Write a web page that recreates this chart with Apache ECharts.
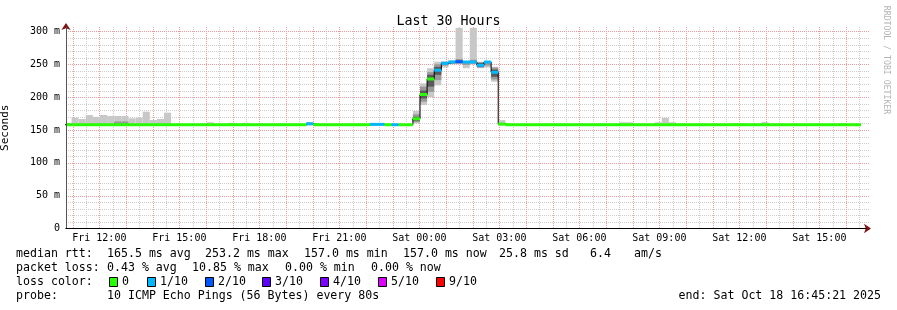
<!DOCTYPE html>
<html><head><meta charset="utf-8">
<script src="https://cdn.jsdelivr.net/npm/echarts@6/dist/echarts.min.js"></script>
<style>html,body{margin:0;padding:0;background:#fff}#c{width:897px;height:310px}</style>
</head><body><div id="c"></div>
<script>
// ---------- data ----------
const chartTitle = 'Last 30 Hours';
const yAxisTitle = 'Seconds';
const xMinHour = 10.75;          // Fri 10:45
const xMaxHour = 40.75;          // Sat 16:45
const binStartHour = 10.69167;   // first (partial) 16-minute bin starts 10:41:30
const binHours = 16 / 60;
const tickHours = [12, 15, 18, 21, 24, 27, 30, 33, 36, 39];
const tickLabels = ['Fri 12:00', 'Fri 15:00', 'Fri 18:00', 'Fri 21:00', 'Sat 00:00', 'Sat 03:00', 'Sat 06:00', 'Sat 09:00', 'Sat 12:00', 'Sat 15:00'];
const yTickValues = [0, 50, 100, 150, 200, 250, 300];
const yTickLabels = ['0', '50 m', '100 m', '150 m', '200 m', '250 m', '300 m'];
const yMax = 306.8;
const xMajorGridStep = 1, xMinorGridStep = 0.5;   // hours
const yMajorGridStep = 50, yMinorGridStep = 10;   // ms

// median rtt per 16-min bin (ms)
const median = [
  158,158,158,158,158,158,158,158,158,158,158,158,158,158,158,
  158,158,158,158,158,158,158,158,158,158,158,158,158,158,158,158,158,158,158,
  159.5,
  158,158,158,158,158,158,158,158,
  158.5,158.5,
  158,158,158,158,
  167,204,227.6,241,251.5,253.5,254,253.5,253.5,248.5,253.5,237.8,159,
  158,158,158,158,158,158,158,158,158,158,158,158,158,158,158,158,158,158,158,158,158,158,158,158,158,
  158,158,158,158,158,158,158,158,158,158,158,158,158,158,158,158,158,158,158,158,158,158,158,158,158
];
// bins with packet loss (tenths)
const lossIdx = [34, 43, 44, 46, 52, 53, 54, 55, 56, 57, 58, 59, 60];
const lossVal = [1, 1, 1, 1, 1, 1, 1, 2, 1, 1, 1, 1, 1];
// smoke bands: [bin, low ms, high ms]
const smokeOuter = [
  [0,157,161],[1,157,168.7],[2,157,166.7],[3,157,172.8],[4,157,170],[5,157,172.8],[6,157,171.3],[7,157,171.3],
  [8,157,171.3],[9,157,167.8],[10,157,168.7],[11,157,177.9],[12,157,165.2],[13,157,166.7],[14,157,176.4],
  [20,157,161.7],[23,157,161],[25,157,161],[34,157,162],[43,157,160.5],[44,157,160.5],
  [49,160,179],[50,188,221],[51,200,244],[52,218,254],[53,245,254],[54,250,256],[55,250,305.5],[56,244,255],
  [57,250,305.5],[58,244,254],[59,245,255],[60,223.5,246.4],[61,157,165],
  [78,157,161.7],[79,157,161.7],[83,157,161.7],[84,157,168.3],[85,157,161.7],[94,157,160.6],[95,157,160.6],
  [98,157,162],[109,157,160.6]
];
const smokeMid = [
  [7,157,163],[8,157,163],[49,162,174],[50,193,216],[51,208,238],[52,226,250],[53,248,254],[54,251,255],
  [55,251,258],[56,249,255],[57,251,257],[58,245,253],[59,248,255],[60,227,245]
];
const smokeDark = [
  [49,164,170],[50,198,210],[51,216,234],[52,234,246],[58,246,252],[60,231,242]
];
const legendKeys = ['0', '1/10', '2/10', '3/10', '4/10', '5/10', '9/10'];
const legendColors = ['#26ff00', '#00b8ff', '#0059ff', '#5e00ff', '#7e00ff', '#dd00ff', '#ff0000'];
const statsLine1 = [['median rtt:', 16], ['165.5 ms avg', 107], ['253.2 ms max', 205], ['157.0 ms min', 304], ['157.0 ms now', 403], ['25.8 ms sd', 499], ['6.4', 590], ['am/s', 634]];
const statsLine2 = [['packet loss:', 16], ['0.43 % avg', 107], ['10.85 % max', 192], ['0.00 % min', 285], ['0.00 % now', 371]];
const probeText = '10 ICMP Echo Pings (56 Bytes) every 80s';
const endText = 'end: Sat Oct 18 16:45:21 2025';
const watermark = 'RRDTOOL / TOBI OETIKER';

// ---------- build ----------
const FONT = '"DejaVu Sans Mono", monospace';
const RED = '#ec9a9a';
const GRAY = '#cdcdcd';
const binStart = i => binStartHour + i * binHours;
const lossOf = i => { const j = lossIdx.indexOf(i); return j < 0 ? 0 : lossVal[j]; };
const medianLine = median.map((v, i) => [binStart(i), v]);
medianLine.push([binStart(median.length), median[median.length - 1]]);
const medianBands = median.map((v, i) => [binStart(i), binStart(i + 1), v, lossOf(i)]);
const toRects = list => list.map(([i, lo, hi]) => [binStart(i), binStart(i + 1), lo, hi]);

// grid line positions (major / minor)
const isMult = (v, s) => Math.abs(v / s - Math.round(v / s)) < 1e-6;
const xMajor = [], xMinor = [], yMajor = [], yMinor = [];
for (let n = Math.ceil(xMinHour / xMinorGridStep); n * xMinorGridStep < xMaxHour; n++) {
  const h = n * xMinorGridStep;
  if (h <= xMinHour) continue;
  (isMult(h, xMajorGridStep) ? xMajor : xMinor).push([h, 0]);
}
for (let n = 1; n * yMinorGridStep <= yMax; n++) {
  const v = n * yMinorGridStep;
  (isMult(v, yMajorGridStep) ? yMajor : yMinor).push([xMinHour, v]);
}
function vGrid(data, color, z) {
  return {
    type: 'custom', data, encode: {x: 0, y: 1}, z, silent: true,
    renderItem(params, api) {
      const cs = params.coordSys;
      const x = Math.round(api.coord([api.value(0), 0])[0]) + 0.5;
      return {type: 'line', shape: {x1: x, y1: cs.y, x2: x, y2: cs.y + cs.height}, style: {stroke: color, lineWidth: 1, lineDash: [1, 1]}};
    }
  };
}
function hGrid(data, color, z) {
  return {
    type: 'custom', data, encode: {x: 0, y: 1}, z, silent: true,
    renderItem(params, api) {
      const cs = params.coordSys;
      const y = Math.round(api.coord([xMinHour, api.value(1)])[1]) + 0.5;
      return {type: 'line', shape: {x1: cs.x, y1: y, x2: cs.x + cs.width + 3, y2: y}, style: {stroke: color, lineWidth: 1, lineDash: [1, 1]}};
    }
  };
}

function clip(rect, cs) {
  return echarts.graphic.clipRectByRect(rect, {x: cs.x, y: cs.y, width: cs.width, height: cs.height});
}
function smokeSeries(list, color) {
  return {
    type: 'custom', data: toRects(list), encode: {x: [0, 1], y: [2, 3]}, z: 2, silent: true,
    renderItem(params, api) {
      const p1 = api.coord([api.value(0), api.value(3)]);
      const p2 = api.coord([api.value(1), api.value(2)]);
      const shape = clip({x: p1[0], y: p1[1], width: p2[0] - p1[0], height: p2[1] - p1[1]}, params.coordSys);
      return shape ? {type: 'rect', shape, style: {fill: color}} : null;
    }
  };
}

const chart = echarts.init(document.getElementById('c'), null, {renderer: 'canvas', width: 897, height: 310});
const txt = (text, x, y, extra) => ({type: 'text', x, y, style: Object.assign({text, fill: '#000', font: '11.6px ' + FONT, textVerticalAlign: 'middle'}, extra || {})});
const graphics = [];
statsLine1.forEach(([t, x]) => graphics.push(txt(t, x, 254)));
statsLine2.forEach(([t, x]) => graphics.push(txt(t, x, 268)));
graphics.push(txt('loss color:', 16, 282));
const boxX = [109, 147, 205, 262, 320, 378, 436];
legendKeys.forEach((k, i) => {
  graphics.push({type: 'rect', shape: {x: boxX[i] + 0.5, y: 277.5, width: 8, height: 9}, style: {fill: legendColors[i], stroke: '#000', lineWidth: 1}});
  graphics.push(txt(k, boxX[i] + 13, 282));
});
graphics.push(txt('probe:', 16, 296));
graphics.push(txt(probeText, 107, 296));
graphics.push(txt(endText, 881, 296, {textAlign: 'right'}));
graphics.push({type: 'text', x: 886, y: 60, rotation: -Math.PI / 2, style: {text: watermark, fill: '#b4b4b4', font: '8.2px ' + FONT, textAlign: 'center', textVerticalAlign: 'middle'}});

const option = {
  animation: false,
  backgroundColor: '#fff',
  title: {text: chartTitle, left: 'center', top: 10, textStyle: {fontFamily: FONT, fontSize: 13.3, fontWeight: 'normal', color: '#000'}},
  grid: {left: 66, right: 31, top: 27, bottom: 81.5, containLabel: false, outerBoundsMode: 'none'},
  xAxis: [
    {
      type: 'value', min: xMinHour, max: xMaxHour, interval: 0.25, z: 5,
      axisLine: {show: true, lineStyle: {color: '#000', width: 1}},
      axisTick: {show: false},
      splitLine: {show: false},
      axisLabel: {
        margin: 5, fontFamily: FONT, fontSize: 10, color: '#000',
        formatter: v => { const j = tickHours.findIndex(h => Math.abs(h - v) < 1e-6); return j < 0 ? '' : tickLabels[j]; }
      }
    },
    {
      type: 'value', min: xMinHour, max: xMaxHour, position: 'bottom', offset: 0, z: 1,
      axisLine: {show: true, symbol: ['none', 'arrow'], symbolSize: [7, 7], symbolOffset: [0, 5], lineStyle: {color: '#7f1010', width: 1}},
      axisTick: {show: false}, axisLabel: {show: false}, splitLine: {show: false}
    }
  ],
  yAxis: [
    {
      type: 'value', min: 0, max: yMax, interval: 10, z: 5, position: 'left',
      name: yAxisTitle, nameLocation: 'middle', nameGap: 55, nameRotate: 90,
      nameTextStyle: {fontFamily: FONT, fontSize: 11, color: '#000'},
      axisLine: {show: true, lineStyle: {color: '#555', width: 1}},
      axisTick: {show: false},
      splitLine: {show: false},
      axisLabel: {
        margin: 6, fontFamily: FONT, fontSize: 10, color: '#000',
        formatter: v => { const j = yTickValues.findIndex(t => Math.abs(t - v) < 1e-6); return j < 0 ? '' : yTickLabels[j]; }
      }
    },
    {
      type: 'value', min: 0, max: yMax, position: 'left', offset: 0, z: 1,
      axisLine: {show: true, symbol: ['none', 'arrow'], symbolSize: [7, 7], symbolOffset: [0, 4], lineStyle: {color: '#7f1010', width: 1}},
      axisTick: {show: false}, axisLabel: {show: false}, splitLine: {show: false}
    }
  ],
  series: [
    vGrid(xMinor, GRAY, 0),
    hGrid(yMinor, GRAY, 0),
    vGrid(xMajor, RED, 1),
    hGrid(yMajor, RED, 1),
    smokeSeries(smokeOuter, '#c8c8c8'),
    smokeSeries(smokeMid, '#999999'),
    smokeSeries(smokeDark, '#5a5a5a'),
    {
      type: 'line', data: medianLine, step: 'end', symbol: 'none', z: 3, silent: true,
      lineStyle: {color: '#000', width: 1}
    },
    {
      type: 'custom', data: medianBands, encode: {x: [0, 1], y: 2}, z: 4, silent: true,
      renderItem(params, api) {
        const p1 = api.coord([api.value(0), api.value(2)]);
        const p2 = api.coord([api.value(1), api.value(2)]);
        const shape = clip({x: p1[0], y: p1[1] - 1.5, width: p2[0] - p1[0], height: 3}, params.coordSys);
        return shape ? {type: 'rect', shape, style: {fill: legendColors[api.value(3)]}} : null;
      }
    }
  ],
  graphic: graphics
};
chart.setOption(option);
</script></body></html>
